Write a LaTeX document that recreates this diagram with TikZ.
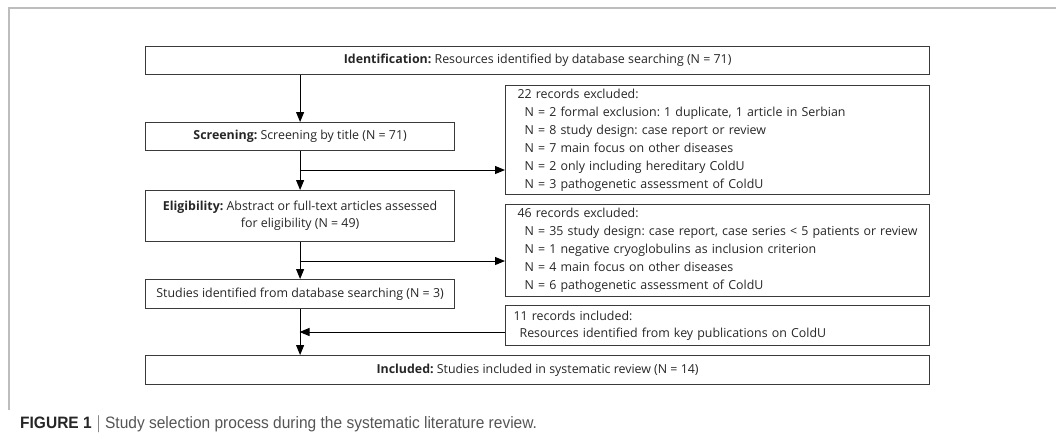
\documentclass[tikz,border=0pt]{standalone}
\usepackage{fontspec}
\setmainfont{Open Sans}
\newfontfamily\capfont{Liberation Sans}[FakeStretch=0.94]
\usetikzlibrary{arrows.meta,positioning,calc}
\definecolor{boxgray}{HTML}{3A3A3A}
\definecolor{textgray}{HTML}{262626}
\definecolor{framegray}{HTML}{BDBDBD}
\definecolor{capgray}{HTML}{555555}
\tikzstyle{stage}=[rectangle,draw=boxgray,line width=1.2pt,inner sep=0pt,
text=textgray,font=\fontsize{12.4}{17}\selectfont,anchor=north west]
\tikzstyle{sidebox}=[stage,align=left,text width=424pt,
font=\fontsize{12.4}{18}\selectfont]
\tikzstyle{flow}=[line width=1pt,black,-{Triangle[length=10pt,width=8pt]}]
\begin{document}
\frenchspacing
\begin{tikzpicture}[x=1pt,y=-1pt]
            \useasboundingbox (0,0) rectangle (1056,432);
            % frame and caption
            \draw[framegray,line width=1.4pt] (9,410) -- (9,8) -- (1056,8);
            \node[anchor=base west,inner sep=0pt,font=\capfont\fontsize{16.5}{18}\selectfont] (caption) at (20,428)
                {\textbf{\color{black!85}FIGURE 1} \textcolor{capgray}{$|$ Study selection process during the systematic literature review.}};

            % MAIN PART

            \node[stage,minimum width=784pt,minimum height=28pt] (ident) at (145,46)
                {\textbf{Identification:} Resources identified by database searching (N = 71)};
            \node[stage,minimum width=309pt,minimum height=28pt] (screen) at (145,122)
                {\textbf{Screening:} Screening by title (N = 71)};
            \node[stage,minimum width=309pt,minimum height=51pt,align=center] (elig) at (145,190)
                {\textbf{Eligibility:} Abstract or full-text articles assessed\\for eligibility (N = 49)};
            \node[stage,minimum width=309pt,minimum height=29pt] (studies) at (145,279)
                {Studies identified from database searching (N = 3)};
            \node[stage,minimum width=784pt,minimum height=29pt] (final) at (145,355)
                {\textbf{Included:} Studies included in systematic review (N = 14)};

            % SIDE PART

            \node[sidebox,minimum height=109pt] (excl1) at (505,85)
                {\hspace*{12pt}22 records excluded:\\
                 \hspace*{19pt}N = 2 formal exclusion: 1 duplicate, 1 article in Serbian\\
                 \hspace*{19pt}N = 8 study design: case report or review\\
                 \hspace*{19pt}N = 7 main focus on other diseases\\
                 \hspace*{19pt}N = 2 only including hereditary ColdU\\
                 \hspace*{19pt}N = 3 pathogenetic assessment of ColdU};
            \node[sidebox,minimum height=92pt] (excl2) at (505,204)
                {\hspace*{12pt}46 records excluded:\\
                 \hspace*{19pt}N = 35 study design: case report, case series < 5 patients or review\\
                 \hspace*{19pt}N = 1 negative cryoglobulins as inclusion criterion\\
                 \hspace*{19pt}N = 4 main focus on other diseases\\
                 \hspace*{19pt}N = 6 pathogenetic assessment of ColdU};
            \node[sidebox,minimum height=40pt,font=\fontsize{12.4}{17}\selectfont] (incl) at (505,305)
                {\hspace*{8pt}11 records included:\\
                 \hspace*{14pt}Resources identified from key publications on ColdU};

            \coordinate (split1) at (299.5,170);
            \coordinate (split2) at (299.5,261);
            \coordinate (join) at (299.5,332);

            % Connections

            \draw[flow] (screen.north |- ident.south) -- (screen.north);
            \draw[flow] (screen.south) -- (elig.north);
            \draw[flow] (split1) -- (split1 -| excl1.west);
            \draw[flow] (elig.south) -- (studies.north);
            \draw[flow] (split2) -- (split2 -| excl2.west);
            \draw[flow] (studies.south) -- (final.north -| studies.south);
            \draw[flow] (join -| incl.west) -- (join);

        \end{tikzpicture}
\end{document}
